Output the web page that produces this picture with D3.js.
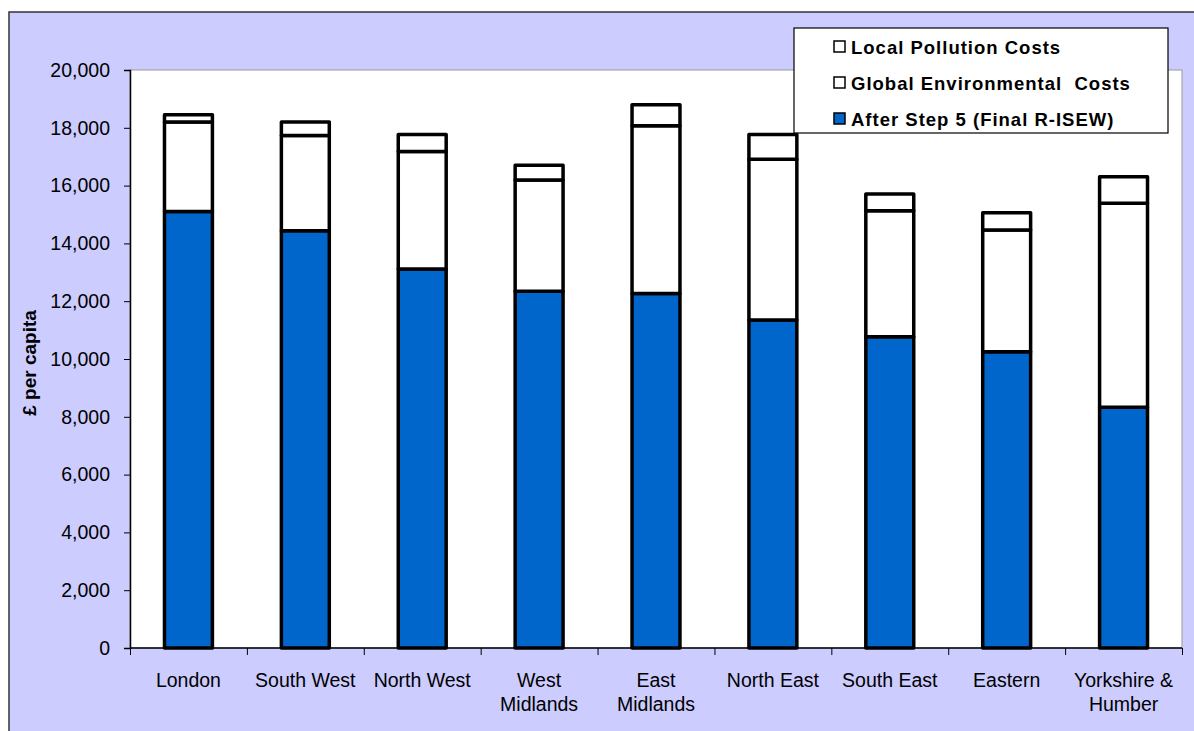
<!DOCTYPE html>
<html><head><meta charset="utf-8">
<script src="https://cdn.jsdelivr.net/npm/d3@7"></script>
<style>body{margin:0;background:#fff;}svg{display:block;font-family:"Liberation Sans",Arial,sans-serif;}</style>
</head><body>
<svg id="chart" width="1194" height="731"></svg>
<script>
const categories = ["London","South West","North West","West Midlands","East Midlands","North East","South East","Eastern","Yorkshire & Humber"];
const categoryLines = [["London"],["South West"],["North West"],["West","Midlands"],["East","Midlands"],["North East"],["South East"],["Eastern"],["Yorkshire &","Humber"]];
const afterStep5 = [15100,14440,13110,12340,12270,11350,10770,10250,8330];
const globalEnv = [3100,3290,4070,3850,5800,5560,4360,4210,7060];
const localPollution = [250,470,590,510,730,860,580,600,920];
const seriesNames = ["After Step 5 (Final R-ISEW)","Global Environmental  Costs","Local Pollution Costs"];
const seriesColors = ["#0066CC","#FFFFFF","#FFFFFF"];
const yTicks = [0,2000,4000,6000,8000,10000,12000,14000,16000,18000,20000];

const svg = d3.select("#chart");
svg.append("rect").attr("x",9).attr("y",12).attr("width",1200).attr("height",740)
  .attr("fill","#CCCCFF").attr("stroke","#333").attr("stroke-width",1.5);

const pL=130,pR=1182,pT=70,pB=648;
svg.append("rect").attr("x",pL).attr("y",pT).attr("width",pR-pL).attr("height",pB-pT)
  .attr("fill","#fff").attr("stroke","#999").attr("stroke-width",1);

const x = d3.scaleBand().domain(categories).range([pL,pR]).paddingInner(0.59).paddingOuter(0.295);
const y = d3.scaleLinear().domain([0,20000]).range([pB,pT]);

const rows = categories.map((c,i)=>({cat:c,s0:afterStep5[i],s1:globalEnv[i],s2:localPollution[i]}));
const stacked = d3.stack().keys(["s0","s1","s2"])(rows);

stacked.forEach((layer,li)=>{
  svg.append("g").selectAll("rect").data(layer).join("rect")
    .attr("x",d=>x(d.data.cat)).attr("width",x.bandwidth())
    .attr("y",d=>y(d[1])).attr("height",d=>y(d[0])-y(d[1]))
    .attr("fill",seriesColors[li]).attr("stroke","#000").attr("stroke-width",3.5)
    .attr("stroke-linejoin","round");
});

// y axis
const yAxis = d3.axisLeft(y).tickValues(yTicks).tickFormat(d3.format(",")).tickSize(6).tickPadding(14);
const gy = svg.append("g").attr("transform",`translate(${pL},0)`).call(yAxis);
gy.select(".domain").attr("stroke","#000").attr("stroke-width",1.5);
gy.selectAll(".tick line").attr("stroke","#000");
gy.selectAll("text").attr("font-size",19.5).attr("fill","#000").attr("font-family","Liberation Sans, Arial, sans-serif");

// x axis baseline and ticks between categories
const xb = d3.scaleLinear().domain([0,categories.length]).range([pL,pR]);
const gx = svg.append("g").attr("transform",`translate(0,${pB})`)
  .call(d3.axisBottom(xb).tickValues(d3.range(categories.length+1)).tickSize(7).tickFormat(""));
gx.select(".domain").attr("stroke","#000").attr("stroke-width",1.5).attr("d",`M${pL},0H${pR}`);
gx.selectAll(".tick line").attr("stroke","#000");

// x labels
const lab = svg.append("g");
categories.forEach((c,i)=>{
  const cx = x(c)+x.bandwidth()/2;
  const t = lab.append("text").attr("x",cx).attr("y",687)
    .attr("text-anchor","middle").attr("font-size",19.5).attr("fill","#000");
  categoryLines[i].forEach((ln,j)=>t.append("tspan").attr("x",cx).attr("dy",j===0?0:24).text(ln));
});

// y title
svg.append("text").attr("transform",`translate(36,363) rotate(-90)`)
  .attr("text-anchor","middle").attr("font-size",19).attr("font-weight","bold").text("£ per capita");

// legend
const lg = svg.append("g");
lg.append("rect").attr("x",794).attr("y",28).attr("width",374).attr("height",105)
  .attr("fill","#fff").attr("stroke","#000").attr("stroke-width",1.2);
const legOrder = [2,1,0];
legOrder.forEach((si,k)=>{
  const cy = 46.5 + k*36;
  lg.append("rect").attr("x",834).attr("y",cy-5.5).attr("width",11).attr("height",11)
    .attr("fill",seriesColors[si]).attr("stroke","#000").attr("stroke-width",1.5);
  lg.append("text").attr("x",851).attr("y",cy+7.5).attr("font-size",18.5).attr("font-weight","bold")
    .attr("letter-spacing",1).style("white-space","pre").text(seriesNames[si]);
});
</script>
</body></html>
